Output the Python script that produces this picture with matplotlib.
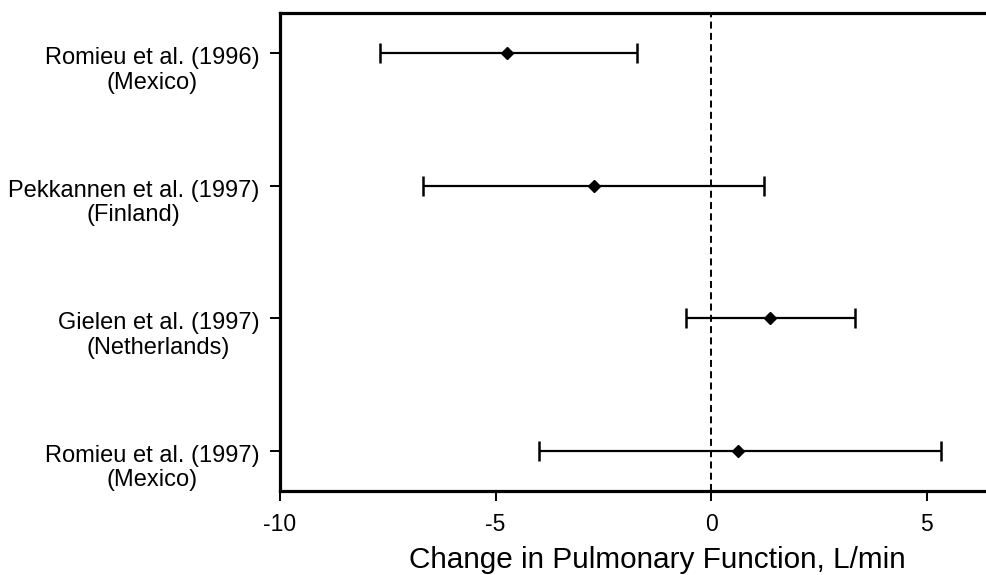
import matplotlib
matplotlib.use("Agg")
import matplotlib.pyplot as plt
import matplotlib.transforms as mtransforms

plt.rcParams['font.family'] = ['Liberation Sans', 'DejaVu Sans']

studies = ["Romieu et al. (1996)\n(Mexico)",
           "Pekkannen et al. (1997)\n(Finland)",
           "Gielen et al. (1997)\n(Netherlands)",
           "Romieu et al. (1997)\n(Mexico)"]
estimate = [-4.73, -2.72, 1.36, 0.63]
lower = [-7.67, -6.68, -0.59, -3.98]
upper = [-1.72, 1.22, 3.34, 5.33]
xticks = [-10, -5, 0, 5]

fig = plt.figure(figsize=(9.86, 5.75), dpi=100)
ax = fig.add_axes([0.284, 0.1466, 0.716, 0.83])

ypos = list(range(len(studies)))
err_lo = [e - l for e, l in zip(estimate, lower)]
err_hi = [u - e for e, u in zip(estimate, upper)]

ax.axvline(0, color='black', lw=1.4, dashes=(3.6, 2.2), zorder=1)
ax.errorbar(estimate, ypos, xerr=[err_lo, err_hi], fmt='D', color='black',
            ms=6.5, lw=1.6, capsize=7, capthick=1.8, zorder=3)

ax.set_xlim(-10, 6.38)
ax.set_ylim(3.3, -0.3)
ax.set_xticks(xticks)
ax.set_xticklabels([str(t) for t in xticks])
ax.set_yticks(ypos)
ax.set_yticklabels(studies, multialignment='center', linespacing=1.15)

for s in ['top', 'bottom', 'left']:
    ax.spines[s].set_linewidth(2.3)
ax.spines['right'].set_visible(False)

ax.tick_params(axis='x', direction='out', length=7, width=1.4, pad=9, labelsize=16.5)
ax.tick_params(axis='y', direction='out', length=7, width=1.4, pad=8, labelsize=17)

shift = mtransforms.ScaledTranslation(0, 4.5 / 72, fig.dpi_scale_trans)
for lab in ax.get_yticklabels():
    lab.set_va('top')
    lab.set_transform(lab.get_transform() + shift)

ax.set_xlabel("Change in Pulmonary Function, L/min", fontsize=21.4)
ax.xaxis.set_label_coords(0.535, -0.115)

fig.savefig("out.png", dpi=100)
